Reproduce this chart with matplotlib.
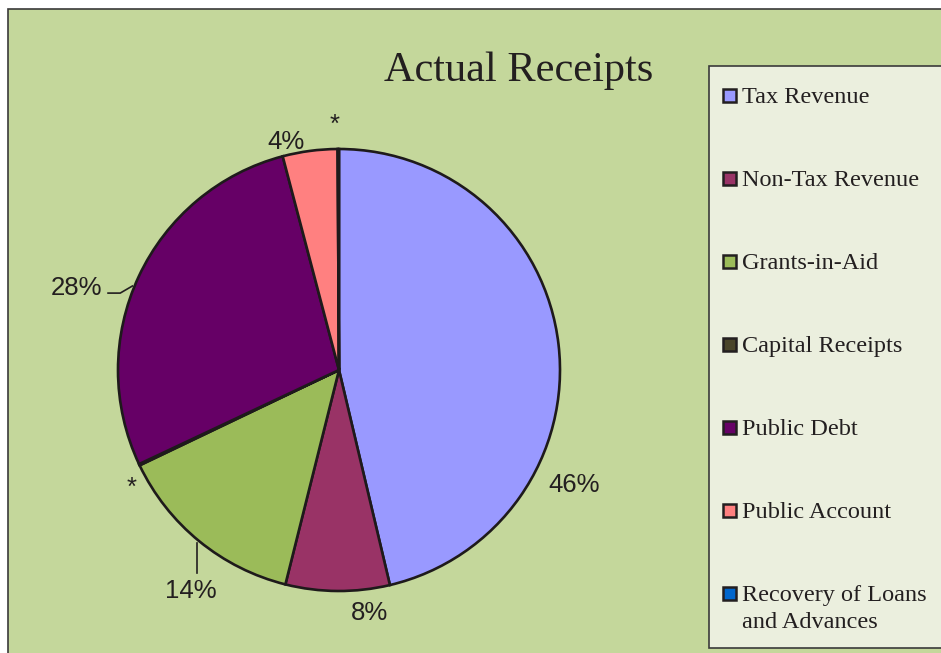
import matplotlib.pyplot as plt
from matplotlib.patches import Rectangle
import numpy as np

# datos
categories = ['Tax Revenue', 'Non-Tax Revenue', 'Grants-in-Aid', 'Capital Receipts',
              'Public Debt', 'Public Account', 'Recovery of Loans\nand Advances']
shares = [46.3, 7.6, 14.0, 0.1, 27.9, 4.0, 0.1]
pct_labels = ['46%', '8%', '14%', '*', '28%', '4%', '*']
colors = ['#9999FF', '#993366', '#9BBB59', '#4A452A', '#660066', '#FF8080', '#0066CC']

# posiciones de las etiquetas (unidades del eje, radio = 1)
label_xy = [(1.065, -0.52), (0.14, -1.10), (-0.67, -1.00), (-0.94, -0.535),
            (-1.19, 0.37), (-0.24, 1.03), (-0.02, 1.11)]

W, H = 941, 653
fig = plt.figure(figsize=(W / 100, H / 100), dpi=100, facecolor='white')

# area del grafico
fig.patches.append(Rectangle((8 / W, -0.05), 1.0, (H - 9) / H + 0.05, transform=fig.transFigure,
                             facecolor='#C4D79B', edgecolor='#3a3a3a', linewidth=1.2, zorder=-2))

# leyenda (caja)
fig.patches.append(Rectangle((709 / W, (H - 648) / H), 0.5, (648 - 66) / H, transform=fig.transFigure,
                             facecolor='#EBEFDE', edgecolor='#3a3a3a', linewidth=1.2, zorder=1))

fig.text(519 / W, 1 - 71 / H, 'Actual Receipts', ha='center', va='center',
         fontsize=30.5, family='Liberation Serif', color='#231F20')

cx, cy, r = 339, 370, 221
ax = fig.add_axes([(cx - r) / W, (H - cy - r) / H, 2 * r / W, 2 * r / H])
ax.set_facecolor('none')
ax.pie(shares, colors=colors, startangle=90, counterclock=False, radius=1,
       wedgeprops=dict(edgecolor='#1e1a1b', linewidth=1.9))
ax.set_xlim(-1, 1)
ax.set_ylim(-1, 1)
ax.set_aspect('auto')
ax.axis('off')

for lab, (lx, ly) in zip(pct_labels, label_xy):
    ax.text(lx, ly, lab, ha='center', va='center', fontsize=18.5,
            family='Liberation Sans', color='#231F20', clip_on=False)

# lineas guia
ax.plot([-0.643, -0.643], [-0.785, -0.92], color='#231F20', lw=1.2, clip_on=False)
ax.plot([-1.045, -0.99, -0.935], [0.348, 0.348, 0.38], color='#231F20', lw=1.2, clip_on=False)

# entradas de la leyenda
y0, step = 95, 83
for i, (cat, col) in enumerate(zip(categories, colors)):
    yc = y0 + i * step
    fig.patches.append(Rectangle((723 / W, (H - yc - 6.5) / H), 13 / W, 13 / H,
                                 transform=fig.transFigure, facecolor=col,
                                 edgecolor='#231F20', linewidth=1.8, zorder=3))
    fig.text(742 / W, (H - yc + 8) / H, cat, ha='left', va='top', fontsize=17.5,
             family='Liberation Serif', color='#231F20', linespacing=1.35, zorder=3)

fig.savefig('out.png', dpi=100, facecolor='white')
